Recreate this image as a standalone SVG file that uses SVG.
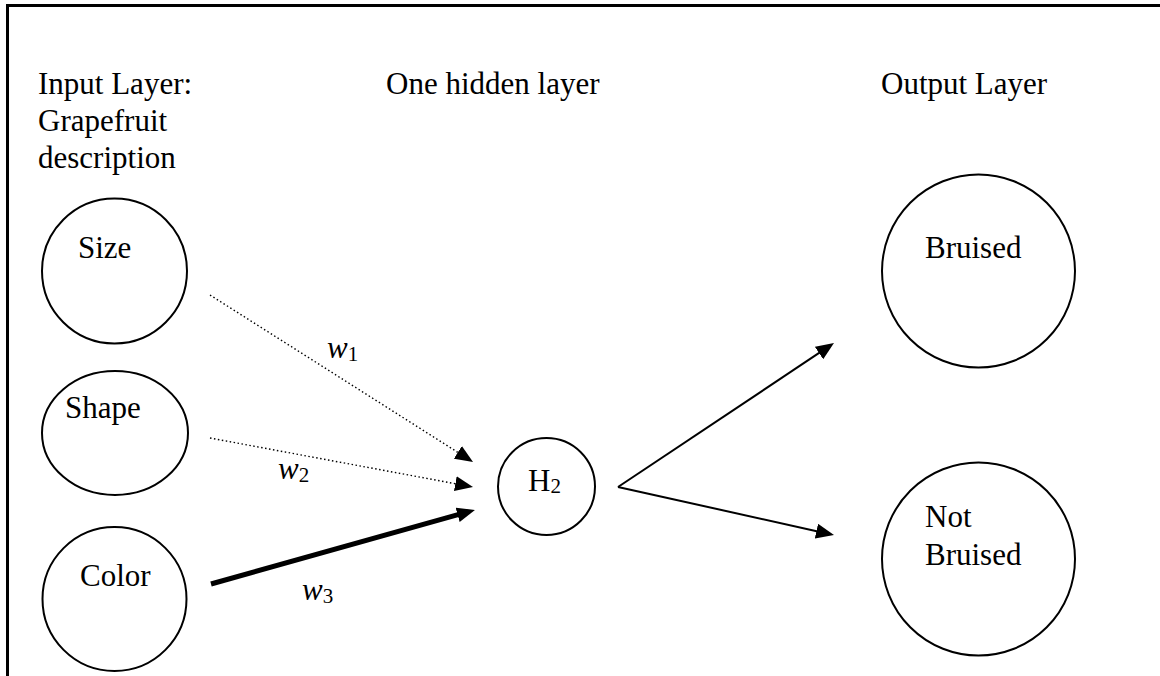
<svg xmlns="http://www.w3.org/2000/svg" width="1160" height="676" viewBox="0 0 1160 676">
<style>
text{font-family:"Liberation Serif","Times New Roman",serif;font-size:31px;fill:#000}
.sub{font-size:21px}
.it{font-style:italic}
.node{fill:#fff;stroke:#000;stroke-width:2}
.edge{stroke:#000;fill:none}
.dot{stroke-width:1.4;stroke-dasharray:1.5 2.5}
.solid{stroke-width:2}
.thick{stroke-width:5}
</style>
<defs>
<marker id="ah" markerUnits="userSpaceOnUse" viewBox="0 0 18 15" markerWidth="18" markerHeight="15" refX="6" refY="7.5" orient="auto">
<path d="M0,0 L18,7.5 L0,15 z" fill="#000"/>
</marker>
</defs>
<rect width="1160" height="676" fill="#fff"/>
<path d="M7.5,676 V5.5 H1160" fill="none" stroke="#000" stroke-width="3"/>
<g id="titles">
<text x="38" y="94">Input Layer:</text>
<text x="38" y="131">Grapefruit</text>
<text x="38" y="168">description</text>
<text x="386" y="94">One hidden layer</text>
<text x="881" y="94">Output Layer</text>
</g>
<g id="connectors">
<line class="edge dot" x1="210" y1="295" x2="462.9" y2="455.6" marker-end="url(#ah)"/>
<line class="edge dot" x1="210" y1="438" x2="461.2" y2="484.8" marker-end="url(#ah)"/>
<line class="edge thick" x1="211" y1="584" x2="463.4" y2="513.2" marker-end="url(#ah)"/>
<line class="edge solid" x1="618" y1="487" x2="824" y2="349.7" marker-end="url(#ah)"/>
<line class="edge solid" x1="618" y1="487" x2="822.3" y2="532.4" marker-end="url(#ah)"/>
<text class="it" x="327" y="358">w<tspan class="sub" font-style="normal" dy="3">1</tspan></text>
<text class="it" x="278" y="479">w<tspan class="sub" font-style="normal" dy="3">2</tspan></text>
<text class="it" x="302" y="600">w<tspan class="sub" font-style="normal" dy="3">3</tspan></text>
</g>
<g id="size"><circle class="node" cx="114.5" cy="271" r="72.5"/><text x="78" y="258">Size</text></g>
<g id="shape"><ellipse class="node" cx="115" cy="433" rx="73" ry="62"/><text x="65" y="418">Shape</text></g>
<g id="color"><circle class="node" cx="114.5" cy="599" r="72"/><text x="80" y="586">Color</text></g>
<g id="h2"><circle class="node" cx="546.5" cy="486.5" r="48.5"/><text x="528" y="491">H<tspan class="sub" dy="2">2</tspan></text></g>
<g id="bruised"><circle class="node" cx="978.5" cy="271" r="96.5"/><text x="925" y="258">Bruised</text></g>
<g id="notbruised"><circle class="node" cx="978.5" cy="559" r="96.5"/><text x="925" y="527">Not</text><text x="925" y="565">Bruised</text></g>
</svg>
